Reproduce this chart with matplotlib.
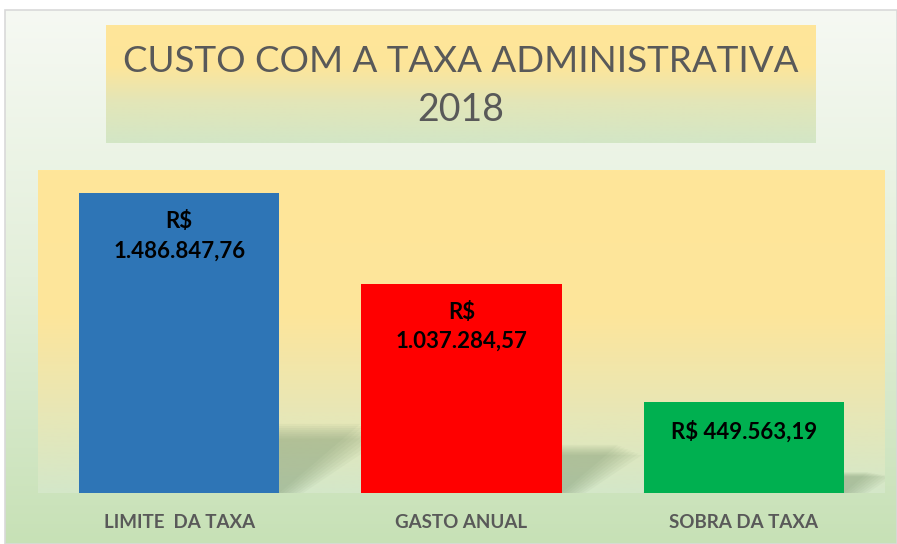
import numpy as np
import matplotlib
matplotlib.use("Agg")
import matplotlib.pyplot as plt
from matplotlib.colors import LinearSegmentedColormap
from matplotlib.patches import Polygon, Rectangle

categories = ["LIMITE  DA TAXA", "GASTO ANUAL", "SOBRA DA TAXA"]
values = [1486847.76, 1037284.57, 449563.19]
value_labels = ["R$\n1.486.847,76", "R$\n1.037.284,57", "R$ 449.563,19"]
bar_colors = ["#2E75B6", "#FF0000", "#00B050"]
title_lines = ["CUSTO COM A TAXA ADMINISTRATIVA", "2018"]

W, H = 897, 544
fig = plt.figure(figsize=(W / 100, H / 100), dpi=100)
fig.patch.set_facecolor("white")

bg = fig.add_axes([0, 0, 1, 1], zorder=0)
bg.set_xlim(0, W)
bg.set_ylim(H, 0)
bg.axis("off")


def vgrad(ax, x0, x1, y0, y1, stops, z=0):
    cmap = LinearSegmentedColormap.from_list("g", stops)
    grad = np.linspace(0, 1, 256).reshape(-1, 1)
    ax.imshow(grad, cmap=cmap, aspect="auto", extent=(x0, x1, y1, y0),
              interpolation="bilinear", zorder=z)


# chart area
vgrad(bg, 5, W, 10, H, [(0, "#F6F9F3"), (0.5, "#E3EFDA"), (1, "#C7E1B6")], z=0)
bg.add_patch(Rectangle((5, 10), W - 5, H - 10, fill=False, edgecolor="#D9D9D9", lw=1.2, zorder=1))
# title box
vgrad(bg, 106, 816, 25, 143, [(0, "#FFE699"), (0.35, "#FDE59A"), (0.65, "#E3E6B8"), (1, "#D3E6C6")], z=1)
# plot area
vgrad(bg, 38, 885, 170, 493, [(0, "#FFE699"), (0.45, "#FDE59B"), (0.75, "#E8E7B6"), (1, "#D4E7C9")], z=1)

bg.text(461, 61, title_lines[0], ha="center", va="center", fontsize=26.5,
        color="#595959", family="Lato", zorder=3)
bg.text(461, 110, title_lines[1], ha="center", va="center", fontsize=27,
        color="#595959", family="Lato", zorder=3)

ax = fig.add_axes([38 / W, (H - 493) / H, 847 / W, 323 / H], zorder=2)
ax.patch.set_alpha(0)
ax.set_xlim(-0.5, 2.5)
ax.set_ylim(0, 1600000)
for s in ax.spines.values():
    s.set_visible(False)
ax.set_yticks([])
ax.set_xticks([])

x = np.arange(len(values))
bw = 0.71
# soft shadows
for xi, v in zip(x, values):
    dx = v / 1600000 * 323 * 0.27 / 282.3
    dy = v * 0.23
    for k in range(8):
        grow = k * 0.012
        poly = Polygon([(xi - bw / 2, 0), (xi + bw / 2 + grow, 0),
                        (xi + bw / 2 + dx + grow, dy * (1 - k * 0.03)),
                        (xi - bw / 2 + dx, dy * (1 - k * 0.03))],
                       closed=True, facecolor="#6E8A62", edgecolor="none",
                       alpha=0.06, zorder=1)
        ax.add_patch(poly)

bars = ax.bar(x, values, width=bw, color=bar_colors, zorder=3)
for xi, v, lab in zip(x, values, value_labels):
    ax.annotate(lab, (xi, v), xytext=(0, -13), textcoords="offset points",
                ha="center", va="top", fontsize=16, fontweight="bold",
                family="Lato", color="black", linespacing=1.5, zorder=4)

for xi, c in zip(x, categories):
    bg.text(38 + (xi + 0.5) * 847 / 3, 522, c, ha="center", va="center",
            fontsize=13.5, fontweight="bold", color="#595959", family="Lato", zorder=3)

fig.savefig("out.png", dpi=100)
